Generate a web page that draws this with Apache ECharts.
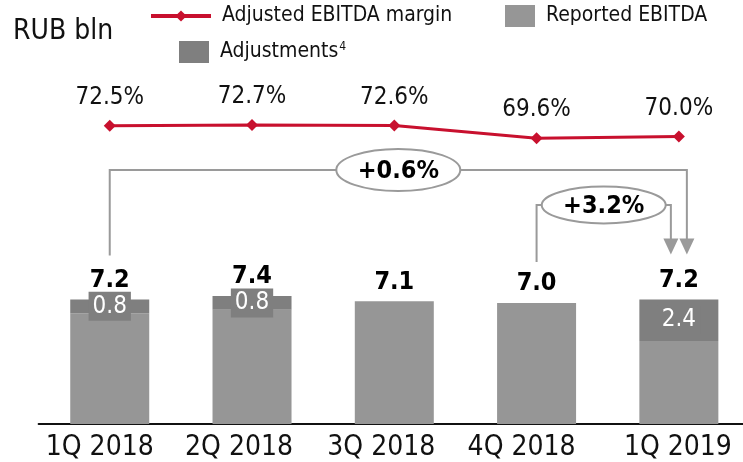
<!DOCTYPE html>
<html>
<head>
<meta charset="utf-8">
<script src="https://cdn.jsdelivr.net/npm/echarts@6/dist/echarts.min.js"></script>
<style>
html,body{margin:0;padding:0;background:#fff;overflow:hidden;width:743px;height:462px;}
#c{width:750px;height:462px;}
</style>
</head>
<body>
<div id="c"></div>
<script>
const categories = ['1Q 2018', '2Q 2018', '3Q 2018', '4Q 2018', '1Q 2019'];
const reported = [6.4, 6.6, 7.1, 7.0, 4.8];
const adjustments = [0.8, 0.8, 0, 0, 2.4];
const totals = [7.2, 7.4, 7.1, 7.0, 7.2];
const margin = [72.5, 72.7, 72.6, 69.6, 70.0];
const changeLong = '+0.6%';
const changeShort = '+3.2%';

const FONT = "'DejaVu Sans Condensed', 'DejaVu Sans', sans-serif";
const RED = '#C8102E';
const LIGHT = '#969696';
const DARK = '#7f7f7f';
const LINEGREY = '#9a9a9a';
// category labels in the source sit slightly left of their bars (text boxes)
const labelShift = [20, 26, 26, 30, 2];

const chart = echarts.init(document.getElementById('c'), null, {renderer: 'canvas'});

const richLabels = {};
labelShift.forEach((s, i) => {
  richLabels['c' + i] = {fontFamily: FONT, fontSize: 28, color: '#111', padding: [0, s, 0, 0]};
});

const option = {
  animation: false,
  backgroundColor: '#fff',
  textStyle: {fontFamily: FONT},
  title: {
    text: 'RUB bln', left: 13, top: 18, padding: 0,
    textStyle: {fontFamily: FONT, fontSize: 28, fontWeight: 'normal', color: '#111'}
  },
  legend: [
    {data: ['Adjusted EBITDA margin'], left: 149, top: 5, padding: 0,
     itemWidth: 60, itemHeight: 14, lineStyle: {width: 4},
     textStyle: {fontFamily: FONT, fontSize: 21, color: '#111', lineHeight: 22, padding: [0, 0, 0, 6]}},
    {data: ['Reported EBITDA'], left: 505, top: 5, padding: 0, icon: 'rect',
     itemWidth: 30, itemHeight: 22,
     textStyle: {fontFamily: FONT, fontSize: 21, color: '#111', lineHeight: 22, padding: [0, 0, 0, 6]}},
    {data: ['Adjustments'], left: 179, top: 41, padding: 0, icon: 'rect',
     itemWidth: 30, itemHeight: 22,
     formatter: () => '{n|Adjustments}{s|4}',
     textStyle: {fontFamily: FONT, fontSize: 21, color: '#111', lineHeight: 22, padding: [0, 0, 0, 6],
       rich: {
         n: {fontFamily: FONT, fontSize: 21, color: '#111', lineHeight: 22},
         s: {fontFamily: FONT, fontSize: 12, color: '#111', lineHeight: 22, verticalAlign: 'top', padding: [0, 0, 8, 1]}
       }}}
  ],
  grid: [
    {left: 38.6, right: 0, top: 251, bottom: 38},
    {left: 38.6, right: 0, top: 100, height: 100}
  ],
  xAxis: [
    {type: 'category', gridIndex: 0, data: categories,
     axisLine: {lineStyle: {color: '#111', width: 2}},
     axisTick: {show: false},
     axisLabel: {interval: 0, hideOverlap: false, fontFamily: FONT, fontSize: 28, color: '#111', margin: 10,
       formatter: (v, i) => '{c' + i + '|' + v + '}', rich: richLabels}},
    {type: 'category', gridIndex: 1, data: categories, show: false}
  ],
  yAxis: [
    {type: 'value', gridIndex: 0, min: 0, max: 10, show: false, splitLine: {show: false}},
    {type: 'value', gridIndex: 1, min: 55, max: 78.6, show: false, splitLine: {show: false}}
  ],
  series: [
    {name: 'Reported EBITDA', type: 'bar', stack: 'e', xAxisIndex: 0, yAxisIndex: 0,
     barWidth: 79, data: reported, itemStyle: {color: LIGHT}},
    {name: 'Adjustments', type: 'bar', stack: 'e', xAxisIndex: 0, yAxisIndex: 0,
     barWidth: 79, itemStyle: {color: DARK},
     data: adjustments.map(v => ({
       value: v,
       label: {show: v > 0}
     })),
     label: {
       position: 'inside', formatter: p => p.value.toFixed(1),
       fontFamily: FONT, fontSize: 24, color: '#fff', lineHeight: 24,
       backgroundColor: DARK, padding: [3, 4, 2, 4]
     }},
    {name: 'Total', type: 'bar', xAxisIndex: 0, yAxisIndex: 0,
     barWidth: 79, barGap: '-100%', data: totals, silent: true,
     itemStyle: {color: 'rgba(0,0,0,0)'},
     label: {show: true, position: 'top', distance: 7, formatter: p => p.value.toFixed(1),
       fontFamily: FONT, fontSize: 25, fontWeight: 'bold', color: '#000', lineHeight: 24}},
    {name: 'Adjusted EBITDA margin', type: 'line', xAxisIndex: 1, yAxisIndex: 1,
     data: margin, symbol: 'diamond', symbolSize: 12,
     lineStyle: {color: RED, width: 3}, itemStyle: {color: RED},
     label: {show: true, position: 'top', distance: 10, formatter: p => p.value.toFixed(1) + '%',
       fontFamily: FONT, fontSize: 24, color: '#111', lineHeight: 24}}
  ]
};
chart.setOption(option);

// annotation brackets anchored to bar centres
const xc = categories.map(c => chart.convertToPixel({xAxisIndex: 0}, c));
const yTop = v => chart.convertToPixel({yAxisIndex: 0}, v);
const lineStyle = {stroke: LINEGREY, lineWidth: 2, fill: null};
const arrow = (x, tip) => ({type: 'polygon', shape: {points: [[x - 7.5, tip - 16], [x + 7.5, tip - 16], [x, tip]]}, style: {fill: LINEGREY}});
const tipY = yTop(totals[4]) - 45;

const l1 = xc[0], r1 = xc[4] + 8, y1 = 170;
const c1 = (l1 + r1) / 2, rx1 = 62, ry1 = 21;
const l2 = xc[3], r2 = xc[4] - 8, y2 = 205;
const c2 = (l2 + r2) / 2, rx2 = 62, ry2 = 18.5;

chart.setOption({
  graphic: [
    {type: 'polyline', shape: {points: [[l1, yTop(totals[0]) - 44], [l1, y1], [c1 - rx1, y1]]}, style: lineStyle},
    {type: 'polyline', shape: {points: [[c1 + rx1, y1], [r1, y1], [r1, tipY - 14]]}, style: lineStyle},
    arrow(r1, tipY),
    {type: 'ellipse', shape: {cx: c1, cy: y1, rx: rx1, ry: ry1}, style: {stroke: LINEGREY, lineWidth: 2, fill: '#fff'}},
    {type: 'text', style: {text: changeLong, x: c1, y: y1 + 1, align: 'center', verticalAlign: 'middle',
      font: "bold 25px " + FONT, fill: '#000'}},

    {type: 'polyline', shape: {points: [[l2, yTop(totals[3]) - 41], [l2, y2], [c2 - rx2, y2]]}, style: lineStyle},
    {type: 'polyline', shape: {points: [[c2 + rx2, y2], [r2, y2], [r2, tipY - 14]]}, style: lineStyle},
    arrow(r2, tipY),
    {type: 'ellipse', shape: {cx: c2, cy: y2, rx: rx2, ry: ry2}, style: {stroke: LINEGREY, lineWidth: 2, fill: '#fff'}},
    {type: 'text', style: {text: changeShort, x: c2, y: y2 + 1, align: 'center', verticalAlign: 'middle',
      font: "bold 25px " + FONT, fill: '#000'}}
  ]
});
</script>
</body>
</html>
